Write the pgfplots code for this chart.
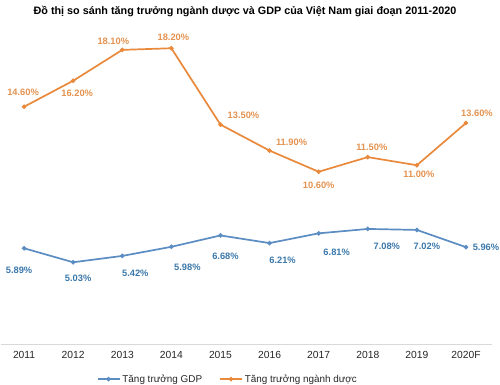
\documentclass[border=0pt]{standalone}
\usepackage{fontspec}
\setmainfont{Liberation Sans}
\usepackage{pgfplots}
\usepackage{pgfplotstable}
\pgfplotsset{compat=1.18}
\definecolor{orl}{HTML}{E8893C}
\definecolor{ort}{HTML}{E3924F}
\definecolor{bll}{HTML}{5B8CC2}
\definecolor{blt}{HTML}{3B78AB}
\pgfplotstableread{
x y dx dy
0 14.6 -1 14
1 16.2 4 -13
2 18.1 -9 9
3 18.2 2 11
4 13.5 23 9
5 11.9 22 8
6 10.6 0 -14
7 11.5 4 10
8 11.0 2 -9
9 13.6 11 10
}\pharma
\pgfplotstableread{
x y dx dy
0 5.89 -5 -22
1 5.03 5 -16
2 5.42 13 -17
3 5.98 16 -20
4 6.68 5 -21
5 6.21 13 -17
6 6.81 18 -19
7 7.08 19 -17
8 7.02 10 -16
9 5.96 20 0
}\gdp
\begin{document}
\begin{tikzpicture}
\useasboundingbox (0,0) rectangle (500pt,385pt);
\begin{axis}[
  at={(1pt,41pt)}, anchor=south west,
  scale only axis, width=491pt, height=325pt,
  xmin=-0.47, xmax=9.53, ymin=0, ymax=20,
  clip=false,
  axis line style={draw=none},
  xtick={0,...,9},
  xticklabels={2011,2012,2013,2014,2015,2016,2017,2018,2019,2020F},
  major tick length=0pt,
  xticklabel style={font=\fontsize{10.3}{12}\selectfont, text=black!85, yshift=-4pt},
  ytick=\empty,
  extra y ticks={0}, extra y tick labels={},
  extra y tick style={grid=major, major grid style={draw=black!15, line width=0.8pt}},
  /pgf/number format/assume math mode=true,
  visualization depends on={\thisrow{dx}\as\dx},
  visualization depends on={\thisrow{dy}\as\dy},
  nodes near coords={\pgfmathprintnumber[fixed,fixed zerofill,precision=2]{\pgfplotspointmeta}\%},
  point meta=y,
  every node near coord/.append style={anchor=center, xshift=\dx pt, yshift=\dy pt, font=\fontsize{9.3}{11}\selectfont\bfseries},
  legend columns=2,
  legend style={at={(axis description cs:0.462,-0.108)}, anchor=center, draw=none, fill=none,
    font=\fontsize{9.9}{11}\selectfont, text=black!85, /tikz/every even column/.append style={column sep=15pt},
    inner sep=0pt},
  legend image code/.code={\draw[mark repeat=2,mark phase=2,#1] plot coordinates {(0pt,0pt) (11pt,0pt) (22pt,0pt)};},
]
\addplot[color=bll, line width=1.7pt, mark=*, mark size=1.3pt, every node near coord/.append style={text=blt}] table[x=x,y=y] {\gdp};
\addlegendentry{Tăng trưởng GDP}
\addplot[color=orl, line width=1.7pt, mark=*, mark size=1.3pt, every node near coord/.append style={text=ort}] table[x=x,y=y] {\pharma};
\addlegendentry{Tăng trưởng ngành dược}
\end{axis}
\node[font=\fontsize{10.8}{12}\selectfont\bfseries] at (245pt,373pt) {Đồ thị so sánh tăng trưởng ngành dược và GDP của Việt Nam giai đoạn 2011-2020};
\end{tikzpicture}
\end{document}
